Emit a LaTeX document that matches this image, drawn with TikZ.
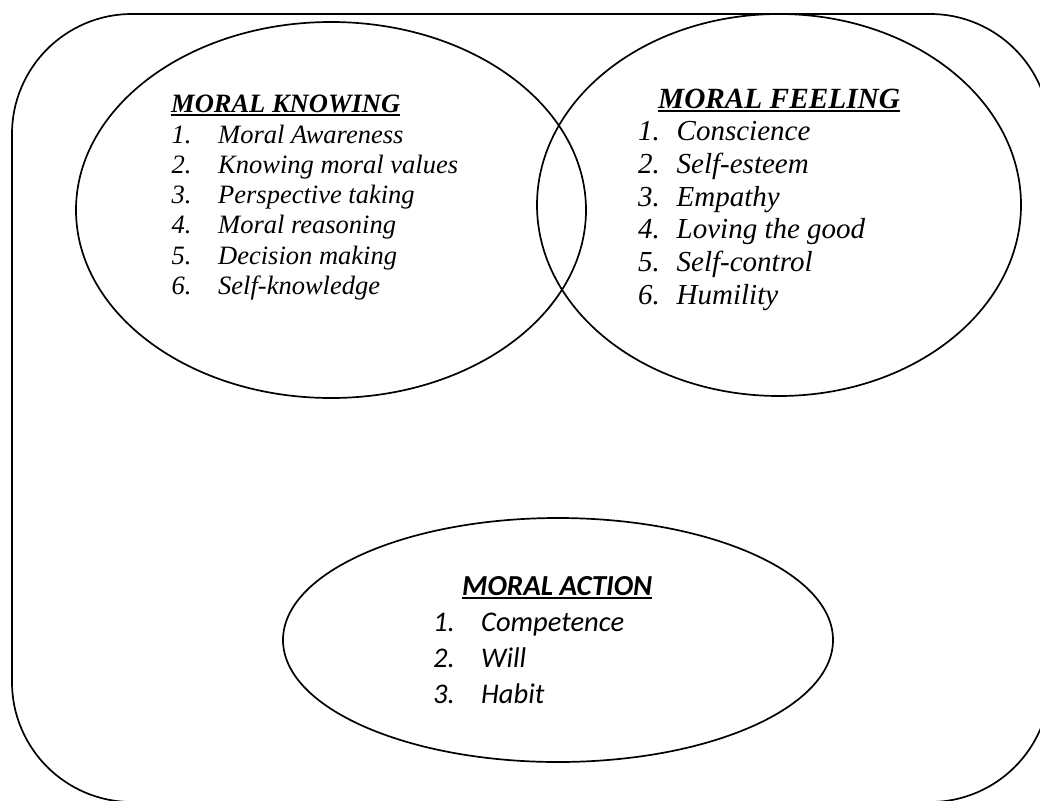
\documentclass[tikz,border=0pt]{standalone}
\usepackage{fontspec}
\setmainfont{Liberation Serif}
\newfontfamily\calibrifont{Carlito}
\usetikzlibrary{shapes.geometric}
\newcommand\myul[1]{\setbox0\hbox{#1}\rlap{\rule[-4pt]{\wd0}{2.4pt}}\box0}
\tikzset{
  outline/.style={draw=black, line width=1.7pt},
  oval/.style={outline, ellipse, inner sep=0pt, outer sep=0pt},
  knowtxt/.style={anchor=base west, inner sep=0pt, font=\itshape\fontsize{26.5}{30}\selectfont},
  feeltxt/.style={anchor=base west, inner sep=0pt, font=\itshape\fontsize{29}{33}\selectfont},
  acttxt/.style={anchor=base west, inner sep=0pt, font=\calibrifont\itshape\fontsize{28.5}{34}\selectfont},
}
\begin{document}
\begin{tikzpicture}[x=1pt,y=-1pt]
\useasboundingbox (0,0) rectangle (1040,800);
\clip (0,0) rectangle (1040,800);
\fill[white] (0,0) rectangle (1040,800);
% outer frame
\draw[outline, rounded corners=120pt] (12,14) rectangle (1050,802);
% ellipses
\node[oval, minimum width=510pt, minimum height=376pt] (know) at (331,210) {};
\node[oval, minimum width=484pt, minimum height=382pt] (feel) at (779,205) {};
\node[oval, minimum width=550pt, minimum height=244pt] (act) at (558,640) {};
% moral knowing
\node[knowtxt, font=\bfseries\itshape\fontsize{26.5}{30}\selectfont] (kt) at (171,112) {\myul{MORAL KNOWING}};
\foreach \t [count=\c] in {Moral Awareness,Knowing moral values,Perspective taking,Moral reasoning,Decision making,Self-knowledge}{
  \pgfmathsetmacro\yy{143+(\c-1)*30.3}
  \node[knowtxt] (kn\c) at (171.5,\yy) {\c.};
  \node[knowtxt] (kl\c) at (218,\yy) {\t};
}
% moral feeling
\node[feeltxt, font=\bfseries\itshape\fontsize{29.3}{33}\selectfont] (ft) at (658,108) {\myul{MORAL FEELING}};
\foreach \t [count=\c] in {Conscience,Self-esteem,Empathy,Loving the good,Self-control,Humility}{
  \pgfmathsetmacro\yy{140.7+(\c-1)*32.7}
  \node[feeltxt] (fn\c) at (638,\yy) {\c.};
  \node[feeltxt] (fl\c) at (676.5,\yy) {\t};
}
% moral action
\node[acttxt, font=\calibrifont\bfseries\itshape\fontsize{29}{34}\selectfont] (at) at (462,595) {\myul{MORAL ACTION}};
\foreach \t [count=\c] in {Competence,Will,Habit}{
  \pgfmathsetmacro\yy{631+(\c-1)*36}
  \node[acttxt] (an\c) at (433,\yy) {\c.};
  \node[acttxt] (al\c) at (481,\yy) {\t};
}
\end{tikzpicture}
\end{document}
